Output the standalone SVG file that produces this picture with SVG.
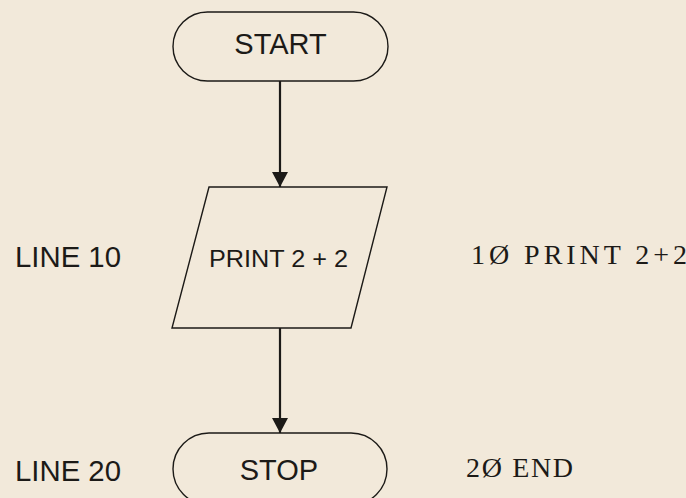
<svg xmlns="http://www.w3.org/2000/svg" width="686" height="498" viewBox="0 0 686 498">
<style>
.shape{fill:none;stroke:#1c1a17;stroke-width:1.4}
.conn{stroke:#1c1a17;stroke-width:2.2;fill:none}
.sans{font-family:"Liberation Sans",Arial,sans-serif;fill:#1c1a17}
.mono{font-family:"Liberation Serif","Times New Roman",serif;fill:#1c1a17}
</style>
<defs>
<marker id="arr" viewBox="0 0 15 16" refX="15" refY="8" markerWidth="15" markerHeight="16" markerUnits="userSpaceOnUse" orient="auto">
<path d="M0,0 L15,8 L0,16 Z" fill="#1c1a17"/>
</marker>
</defs>
<rect width="686" height="498" fill="#f2e9da"/>
<g id="connectors">
<line class="conn" x1="280" y1="81" x2="280" y2="187" marker-end="url(#arr)"/>
<line class="conn" x1="280" y1="328" x2="280" y2="433" marker-end="url(#arr)"/>
</g>
<g id="start">
<rect class="shape" x="173" y="12" width="215" height="69" rx="34.5"/>
<text class="sans" x="280.5" y="54" font-size="29" text-anchor="middle">START</text>
</g>
<g id="print">
<polygon class="shape" points="209,187 387,187 351,328 172,328"/>
<text class="sans" x="209" y="267" font-size="23" textLength="139" lengthAdjust="spacingAndGlyphs">PRINT 2 + 2</text>
</g>
<g id="stop">
<rect class="shape" x="173" y="433" width="214" height="72" rx="36"/>
<text class="sans" x="279" y="480" font-size="29" text-anchor="middle">STOP</text>
</g>
<g id="labels">
<text class="sans" x="15" y="267" font-size="29" textLength="106" lengthAdjust="spacingAndGlyphs">LINE 10</text>
<text class="sans" x="15" y="481" font-size="29" textLength="106" lengthAdjust="spacingAndGlyphs">LINE 20</text>
<text class="mono" x="471" y="264" font-size="28" textLength="216" lengthAdjust="spacing">1Ø PRINT 2+2</text>
<text class="mono" x="466" y="477" font-size="28" textLength="107" lengthAdjust="spacing">2Ø END</text>
</g>
</svg>
